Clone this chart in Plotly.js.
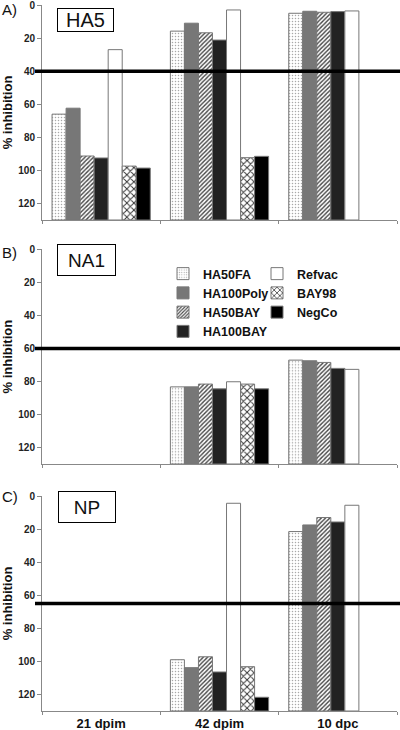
<!DOCTYPE html>
<html><head><meta charset="utf-8">
<script src="https://cdn.plot.ly/plotly-3.0.1.min.js"></script>
<style>html,body{margin:0;padding:0;background:#fff}#chart{width:400px;height:730px}</style>
</head><body><div id="chart"></div>
<script>
const categories = ['21 dpim', '42 dpim', '10 dpc'];
const seriesNames = ['HA50FA', 'HA100Poly', 'HA50BAY', 'HA100BAY', 'Refvac', 'BAY98', 'NegCo'];
const panelNames = ['HA5', 'NA1', 'NP'];
const panelLetters = ['A)', 'B)', 'C)'];
const thresholds = [40, 60, 65];

// HA5 (% inhibition)
const ha5_HA50FA    = [66, 15.8, 5];
const ha5_HA100Poly = [62.4, 11, 3.8];
const ha5_HA50BAY   = [91.3, 16.8, 4.4];
const ha5_HA100BAY  = [92.5, 21.2, 4];
const ha5_Refvac    = [27, 3, 3.6];
const ha5_BAY98     = [97.4, 92.3, null];
const ha5_NegCo     = [98.6, 91.5, null];
// NA1
const na1_HA50FA    = [null, 83.3, 67.1];
const na1_HA100Poly = [null, 83.3, 67.5];
const na1_HA50BAY   = [null, 81.6, 68.5];
const na1_HA100BAY  = [null, 84.5, 72.1];
const na1_Refvac    = [null, 80.2, 72.7];
const na1_BAY98     = [null, 81.6, null];
const na1_NegCo     = [null, 84.5, null];
// NP
const np_HA50FA     = [null, 99, 21.5];
const np_HA100Poly  = [null, 103.8, 17.5];
const np_HA50BAY    = [null, 97.2, 13];
const np_HA100BAY   = [null, 106.4, 15.7];
const np_Refvac     = [null, 4.4, 5.6];
const np_BAY98      = [null, 103.2, null];
const np_NegCo      = [null, 121.7, null];

const panels = [
  [ha5_HA50FA, ha5_HA100Poly, ha5_HA50BAY, ha5_HA100BAY, ha5_Refvac, ha5_BAY98, ha5_NegCo],
  [na1_HA50FA, na1_HA100Poly, na1_HA50BAY, na1_HA100BAY, na1_Refvac, na1_BAY98, na1_NegCo],
  [np_HA50FA, np_HA100Poly, np_HA50BAY, np_HA100BAY, np_Refvac, np_BAY98, np_NegCo]
];

const axisFloor = 130;

const styles = [
  {color: '#ffffff', pattern: {shape: '.', fgcolor: '#a8a8a8', bgcolor: '#ffffff', size: 3, solidity: 0.2}},
  {color: '#777777', pattern: {shape: ''}},
  {color: '#ffffff', pattern: {shape: '/', fgcolor: '#444444', bgcolor: '#ffffff', size: 3, solidity: 0.45}},
  {color: '#222222', pattern: {shape: ''}},
  {color: '#ffffff', pattern: {shape: ''}},
  {color: '#ffffff', pattern: {shape: 'x', fgcolor: '#333333', bgcolor: '#ffffff', size: 5, solidity: 0.35}},
  {color: '#000000', pattern: {shape: ''}}
];

const traces = [];
panels.forEach((series, p) => {
  const xa = p === 0 ? 'x' : 'x' + (p + 1);
  const ya = p === 0 ? 'y' : 'y' + (p + 1);
  series.forEach((vals, s) => {
    traces.push({
      type: 'bar',
      name: seriesNames[s],
      x: categories,
      y: vals.map(v => v === null ? null : v - axisFloor),
      base: axisFloor,
      xaxis: xa, yaxis: ya,
      legendgroup: seriesNames[s],
      showlegend: p === 0,
      legend: s < 4 ? 'legend' : 'legend2',
      marker: {color: styles[s].color, pattern: styles[s].pattern, line: {color: '#777777', width: 1}},
      hoverinfo: 'skip'
    });
  });
});

// plot area in px: left 42, right 397, top 5, bottom 711
const L = 42, W = 355, B = 711, T = 5;
const H = B - T;
const px = x => (x - L) / W;
const py = y => (B - y) / H;

const domains = [[py(220), py(5)], [py(464), py(249.3)], [py(711), py(496)]];

const tickFont = {family: 'Liberation Sans, Arial, sans-serif', size: 10, color: '#222', weight: 'bold'};

const layout = {
  width: 400, height: 730,
  margin: {l: L, r: 400 - L - W, t: T, b: 730 - B, pad: 0, autoexpand: false},
  paper_bgcolor: '#fff', plot_bgcolor: '#fff',
  barmode: 'group', bargap: 0.17, bargroupgap: 0,
  font: {family: 'Liberation Sans, Arial, sans-serif', color: '#111'},
  showlegend: true,
  legend: {x: px(163), y: py(259), xanchor: 'left', yanchor: 'top', bgcolor: 'rgba(0,0,0,0)',
           font: {size: 12.5, weight: 'bold', color: '#111'}, itemclick: false, tracegroupgap: 0},
  legend2: {x: px(257), y: py(259), xanchor: 'left', yanchor: 'top', bgcolor: 'rgba(0,0,0,0)',
           font: {size: 12.5, weight: 'bold', color: '#111'}, itemclick: false, tracegroupgap: 0},
  shapes: [], annotations: []
};

for (let p = 0; p < 3; p++) {
  const xk = p === 0 ? 'xaxis' : 'xaxis' + (p + 1);
  const yk = p === 0 ? 'yaxis' : 'yaxis' + (p + 1);
  const yid = p === 0 ? 'y' : 'y' + (p + 1);
  layout[xk] = {
    domain: [0, 1], anchor: yid, type: 'category', categoryorder: 'array', categoryarray: categories,
    showline: true, linecolor: '#888', linewidth: 1, ticks: 'outside', tickson: 'boundaries',
    ticklen: 3, tickcolor: '#888', showgrid: false, zeroline: false,
    showticklabels: p === 2,
    tickfont: {family: 'Liberation Sans, Arial, sans-serif', size: 13, color: '#111', weight: 'bold'}
  };
  layout[yk] = {
    domain: domains[p], anchor: p === 0 ? 'x' : 'x' + (p + 1),
    range: [axisFloor, 0], dtick: 20, tick0: 0, ticklabeloverflow: 'allow',
    showline: true, linecolor: '#888', linewidth: 1, ticks: 'outside', ticklen: 4, tickcolor: '#888',
    showgrid: false, zeroline: false, tickfont: tickFont,
    title: {text: '% inhibition', font: {size: 13, weight: 'bold', color: '#111'}, standoff: 6}
  };
  layout.shapes.push({
    type: 'line', xref: 'paper', yref: yid, x0: px(35), x1: px(400),
    y0: thresholds[p], y1: thresholds[p], line: {color: '#000', width: 3.5}
  });
}

// panel title boxes
const boxes = [
  {cx: 85.5, cy: 20, w: 55, h: 22, size: 20},
  {cx: 86.5, cy: 259.5, w: 57, h: 30, size: 19},
  {cx: 87, cy: 506.5, w: 56, h: 30, size: 19}
];
boxes.forEach((b, p) => {
  layout.annotations.push({
    xref: 'paper', yref: 'paper', x: px(b.cx), y: py(b.cy), xanchor: 'center', yanchor: 'middle',
    text: panelNames[p], showarrow: false, width: b.w, height: b.h, borderpad: 0,
    bordercolor: '#000', borderwidth: 1, bgcolor: '#fff',
    font: {family: 'Liberation Sans, Arial, sans-serif', size: b.size, color: '#111'}
  });
});
const letterY = [10, 252, 496];
letterY.forEach((y, p) => {
  layout.annotations.push({
    xref: 'paper', yref: 'paper', x: px(0), y: py(y), xanchor: 'left', yanchor: 'middle',
    text: panelLetters[p], showarrow: false,
    font: {family: 'Liberation Sans, Arial, sans-serif', size: 15, color: '#111'}
  });
});

Plotly.newPlot('chart', traces, layout, {displayModeBar: false, staticPlot: true});
</script></body></html>
